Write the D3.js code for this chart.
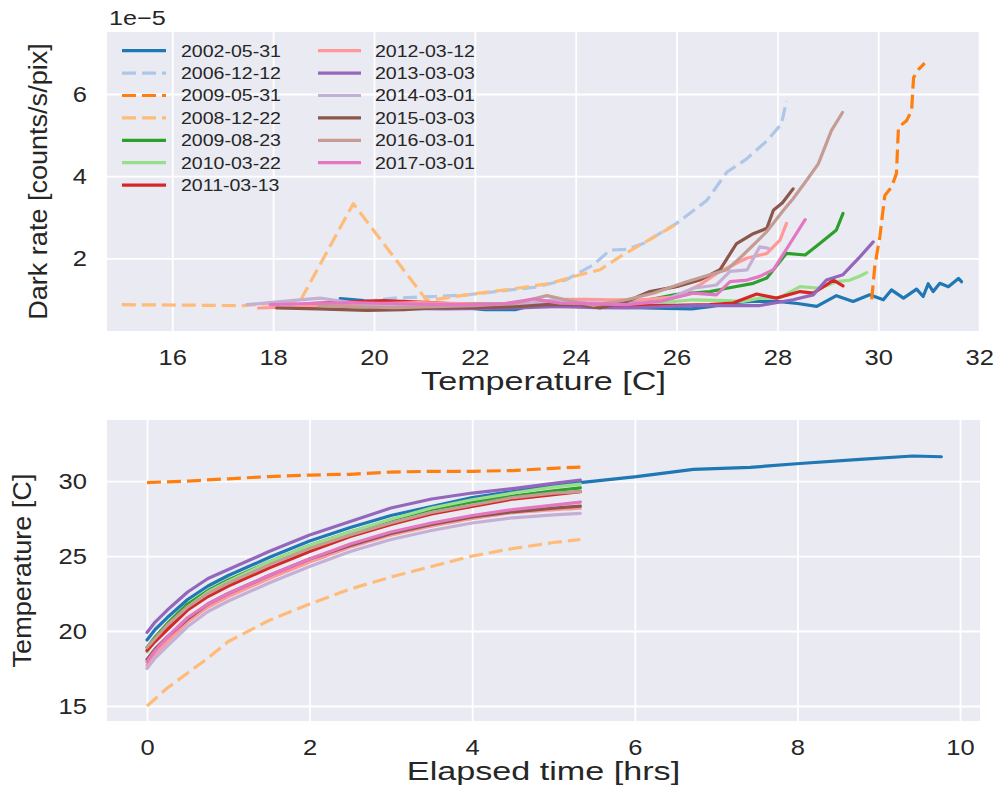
<!DOCTYPE html>
<html><head><meta charset="utf-8">
<script src="https://cdn.jsdelivr.net/npm/d3@7"></script>
<style>
html,body{margin:0;padding:0;background:#fff;}
svg{display:block;}
</style>
</head><body>
<svg id="c" width="999" height="795"></svg>
<script>
// ---------- DATA ----------
const labels = ["2002-05-31","2006-12-12","2009-05-31","2008-12-22","2009-08-23","2010-03-22","2011-03-13",
                "2012-03-12","2013-03-03","2014-03-01","2015-03-03","2016-03-01","2017-03-01"];

// Dark rate (1e-5 counts/s/pix) vs temperature [C]: [temperature, rate]
const dark_2002_05_31 = [[19.33,1.02],[19.8,0.97],[20.5,0.93],[21.2,0.88],[21.8,0.8],[22.2,0.75],[22.8,0.75],[23.2,0.87],[23.8,0.85],[24.5,0.82],[25.2,0.8],[25.8,0.78],[26.3,0.77],[26.7,0.83],[27.1,0.92],[27.5,0.95],[28.0,0.95],[28.4,0.9],[28.78,0.83],[29.17,1.09],[29.5,0.95],[29.83,1.11],[30.1,0.99],[30.26,1.23],[30.5,1.03],[30.76,1.25],[30.89,1.07],[30.99,1.38],[31.09,1.19],[31.22,1.39],[31.39,1.31],[31.59,1.51],[31.65,1.43]];
const dark_2006_12_12 = [[18.2,0.86],[19.0,0.9],[19.8,0.95],[20.4,1.03],[21.2,1.07],[21.84,1.11],[22.5,1.2],[23.2,1.3],[23.8,1.47],[24.35,1.84],[24.68,2.2],[25.01,2.22],[25.34,2.36],[26.0,2.85],[26.6,3.41],[27.0,4.1],[27.39,4.42],[27.79,4.86],[28.08,5.27],[28.18,5.83]];
const dark_2009_05_31 = [[29.87,1.0],[29.93,1.8],[30.03,2.52],[30.13,3.53],[30.26,3.73],[30.36,4.06],[30.4,5.19],[30.56,5.35],[30.66,5.59],[30.7,6.4],[30.8,6.6],[30.92,6.75]];
const dark_2008_12_22 = [[15.0,0.87],[16.3,0.86],[17.41,0.845],[18.54,0.97],[19.59,3.33],[21.05,0.97],[21.84,1.11],[22.83,1.27],[23.49,1.39],[24.09,1.6],[24.48,1.72],[24.88,2.04],[25.27,2.32],[25.67,2.6],[26.05,2.87]];
const dark_2009_08_23 = [[18.9,0.85],[19.6,0.8],[20.4,0.82],[21.2,0.86],[22.0,0.9],[22.8,0.88],[23.5,0.9],[24.2,0.88],[24.9,0.92],[25.5,1.0],[26.0,1.12],[26.66,1.19],[27.0,1.27],[27.52,1.39],[27.79,1.52],[28.18,2.12],[28.55,2.08],[28.84,2.36],[29.17,2.69],[29.3,3.09]];
const dark_2010_03_22 = [[18.6,0.82],[19.4,0.8],[20.2,0.83],[21.0,0.85],[21.8,0.87],[22.6,0.9],[23.4,0.88],[24.2,0.85],[25.0,0.88],[25.7,0.92],[26.33,0.99],[27.0,0.97],[27.32,0.95],[27.65,1.03],[28.05,1.05],[28.45,1.31],[28.84,1.27],[29.17,1.43],[29.44,1.47],[29.64,1.57],[29.77,1.65]];
const dark_2011_03_13 = [[18.7,0.9],[19.33,0.93],[20.19,0.97],[21.0,0.93],[21.8,0.88],[22.6,0.85],[23.4,0.83],[24.2,0.82],[25.0,0.84],[25.67,0.85],[26.66,0.87],[27.12,0.91],[27.59,1.13],[27.98,1.03],[28.45,1.19],[28.71,1.15],[28.97,1.35],[29.11,1.47],[29.3,1.33]];
const dark_2012_03_12 = [[17.71,0.79],[18.5,0.82],[19.3,0.86],[20.1,0.9],[20.9,0.92],[21.7,0.9],[22.5,0.88],[23.3,0.92],[23.8,1.0],[24.22,1.0],[24.68,0.99],[25.34,0.99],[26.0,1.07],[26.46,1.35],[26.86,1.68],[27.39,2.0],[27.79,2.12],[28.05,2.44],[28.18,2.85]];
const dark_2013_03_03 = [[19.9,0.8],[20.6,0.78],[21.4,0.77],[22.2,0.78],[23.0,0.8],[23.69,0.83],[24.4,0.8],[25.01,0.79],[25.7,0.82],[26.33,0.85],[27.0,0.85],[27.65,0.85],[28.31,0.99],[28.71,1.11],[28.97,1.47],[29.3,1.6],[29.64,2.04],[29.9,2.4]];
const dark_2014_03_01 = [[17.48,0.87],[18.2,0.95],[18.93,1.03],[19.86,0.87],[20.6,0.85],[21.4,0.82],[22.2,0.85],[23.0,0.88],[23.6,1.0],[24.2,0.92],[25.0,0.9],[25.7,0.95],[26.33,1.27],[26.79,1.35],[27.06,1.68],[27.4,1.72],[27.65,2.28],[27.82,2.24]];
const dark_2015_03_03 = [[18.07,0.79],[18.9,0.77],[19.86,0.73],[20.6,0.75],[21.18,0.79],[22.0,0.8],[22.8,0.82],[23.49,0.88],[24.09,0.87],[24.48,0.79],[25.01,0.95],[25.47,1.19],[26.0,1.31],[26.46,1.47],[26.86,1.72],[27.19,2.36],[27.52,2.6],[27.79,2.73],[27.92,3.17],[28.1,3.35],[28.31,3.69]];
const dark_2016_03_01 = [[18.9,0.85],[19.6,0.82],[20.4,0.8],[21.2,0.82],[22.0,0.85],[22.8,0.9],[23.43,1.09],[23.8,0.99],[24.35,0.85],[25.01,0.99],[25.54,1.15],[26.2,1.43],[26.66,1.6],[27.0,1.72],[27.32,2.08],[27.79,2.65],[28.12,3.17],[28.31,3.45],[28.58,3.9],[28.81,4.3],[29.07,5.11],[29.29,5.55]];
const dark_2017_03_01 = [[17.94,0.87],[18.7,0.9],[19.5,0.92],[20.3,0.9],[21.1,0.88],[21.9,0.87],[22.6,0.9],[23.16,1.01],[23.69,0.91],[24.35,0.89],[25.01,0.87],[25.67,0.95],[26.33,1.15],[26.79,1.11],[27.06,1.43],[27.4,1.47],[27.65,1.56],[27.92,1.72],[28.25,2.36],[28.55,2.94]];

// Temperature [C] vs elapsed time [hrs]: [hours, temperature]
const temp_2002_05_31 = [[0,19.4],[0.1,20.1],[0.25,20.9],[0.5,22.1],[0.75,23.0],[1,23.7],[1.5,24.9],[2,26.0],[2.5,26.9],[3,27.7],[3.5,28.3],[4,28.9],[4.5,29.3],[5,29.7],[5.33,29.9],[6.02,30.29],[6.72,30.78],[7.42,30.91],[8.03,31.17],[8.77,31.45],[9.42,31.67],[9.77,31.62]];
const temp_2006_12_12 = [[0,17.8],[0.1,18.5],[0.25,19.4],[0.5,20.7],[0.75,21.7],[1,22.4],[1.5,23.6],[2,24.6],[2.5,25.6],[3,26.4],[3.5,27.0],[4,27.5],[4.5,27.9],[5,28.1],[5.4,28.2]];
const temp_2009_05_31 = [[0,29.9],[0.5,30.0],[1,30.15],[1.5,30.3],[2,30.4],[2.5,30.45],[3,30.6],[3.5,30.65],[4,30.65],[4.5,30.7],[5,30.85],[5.33,30.93]];
const temp_2008_12_22 = [[0,15.0],[0.25,16.2],[0.5,17.2],[0.75,18.2],[1,19.3],[1.5,20.7],[2,21.8],[2.5,22.8],[3,23.6],[3.5,24.3],[4,25.0],[4.5,25.5],[5,25.9],[5.33,26.1]];
const temp_2009_08_23 = [[0,18.9],[0.1,19.6],[0.25,20.5],[0.5,21.8],[0.75,22.7],[1,23.4],[1.5,24.6],[2,25.7],[2.5,26.6],[3,27.4],[3.5,28.1],[4,28.6],[4.5,29.0],[5,29.35],[5.33,29.55]];
const temp_2010_03_22 = [[0,18.6],[0.1,19.4],[0.25,20.3],[0.5,21.6],[0.75,22.6],[1,23.3],[1.5,24.6],[2,25.7],[2.5,26.6],[3,27.45],[3.5,28.2],[4,28.75],[4.5,29.2],[5,29.6],[5.33,29.8]];
const temp_2011_03_13 = [[0,18.7],[0.1,19.3],[0.25,20.1],[0.5,21.4],[0.75,22.3],[1,23.0],[1.5,24.2],[2,25.3],[2.5,26.3],[3,27.1],[3.5,27.8],[4,28.3],[4.5,28.8],[5,29.1],[5.33,29.3]];
const temp_2012_03_12 = [[0,17.7],[0.1,18.4],[0.25,19.3],[0.5,20.6],[0.75,21.6],[1,22.3],[1.5,23.5],[2,24.6],[2.5,25.6],[3,26.4],[3.5,27.0],[4,27.5],[4.5,27.9],[5,28.1],[5.33,28.2]];
const temp_2013_03_03 = [[0,19.9],[0.1,20.6],[0.25,21.4],[0.5,22.6],[0.75,23.5],[1,24.1],[1.5,25.3],[2,26.4],[2.5,27.3],[3,28.2],[3.5,28.8],[4,29.2],[4.5,29.5],[5,29.85],[5.33,30.07]];
const temp_2014_03_01 = [[0,17.5],[0.1,18.2],[0.25,19.0],[0.5,20.3],[0.75,21.3],[1,22.0],[1.5,23.2],[2,24.3],[2.5,25.3],[3,26.1],[3.5,26.7],[4,27.2],[4.5,27.55],[5,27.75],[5.33,27.85]];
const temp_2015_03_03 = [[0,18.1],[0.1,18.8],[0.25,19.6],[0.5,20.8],[0.75,21.8],[1,22.5],[1.5,23.7],[2,24.8],[2.5,25.7],[3,26.5],[3.5,27.1],[4,27.6],[4.5,27.95],[5,28.2],[5.33,28.33]];
const temp_2016_03_01 = [[0,18.9],[0.1,19.5],[0.25,20.4],[0.5,21.6],[0.75,22.5],[1,23.2],[1.5,24.4],[2,25.5],[2.5,26.4],[3,27.2],[3.5,27.9],[4,28.4],[4.5,28.9],[5,29.2],[5.33,29.3]];
const temp_2017_03_01 = [[0,17.95],[0.1,18.7],[0.25,19.6],[0.5,20.9],[0.75,21.8],[1,22.5],[1.5,23.7],[2,24.8],[2.5,25.8],[3,26.6],[3.5,27.2],[4,27.7],[4.5,28.1],[5,28.4],[5.33,28.6]];

const darkSeries = [dark_2002_05_31,dark_2006_12_12,dark_2009_05_31,dark_2008_12_22,dark_2009_08_23,dark_2010_03_22,dark_2011_03_13,
                    dark_2012_03_12,dark_2013_03_03,dark_2014_03_01,dark_2015_03_03,dark_2016_03_01,dark_2017_03_01];
const tempSeries = [temp_2002_05_31,temp_2006_12_12,temp_2009_05_31,temp_2008_12_22,temp_2009_08_23,temp_2010_03_22,temp_2011_03_13,
                    temp_2012_03_12,temp_2013_03_03,temp_2014_03_01,temp_2015_03_03,temp_2016_03_01,temp_2017_03_01];

const topXTicks = [16,18,20,22,24,26,28,30,32];
const topYTicks = [2,4,6];
const botXTicks = [0,2,4,6,8,10];
const botYTicks = [15,20,25,30];

// ---------- STYLE ----------
const colors = ["#1f77b4","#aec7e8","#ff7f0e","#ffbb78","#2ca02c","#98df8a","#d62728",
                "#ff9896","#9467bd","#c5b0d5","#8c564b","#c49c94","#e377c2"];
const dashedFlags = [false,true,true,true,false,false,false,false,false,false,false,false,false];
const FONT = '"Liberation Sans", Arial, Helvetica, sans-serif';
const TXT = "#262626";
const BG = "#eaeaf2";

const svg = d3.select("#c");
svg.append("rect").attr("width",999).attr("height",795).attr("fill","#fff");

function panel(box, xDom, yDom, xTicks, yTicks, clipId) {
  const x = d3.scaleLinear().domain(xDom).range([box.l, box.r]);
  const y = d3.scaleLinear().domain(yDom).range([box.b, box.t]);
  svg.append("rect").attr("x",box.l).attr("y",box.t).attr("width",box.r-box.l).attr("height",box.b-box.t).attr("fill",BG);
  svg.append("clipPath").attr("id",clipId).append("rect")
     .attr("x",box.l).attr("y",box.t).attr("width",box.r-box.l).attr("height",box.b-box.t);
  const gx = svg.append("g").attr("transform",`translate(0,${box.b})`)
     .call(d3.axisBottom(x).tickValues(xTicks).tickSize(-(box.b-box.t)).tickFormat(""));
  const gy = svg.append("g").attr("transform",`translate(${box.l},0)`)
     .call(d3.axisLeft(y).tickValues(yTicks).tickSize(-(box.r-box.l)).tickFormat(""));
  [gx,gy].forEach(g=>{ g.select(".domain").remove(); g.selectAll("line").attr("stroke","#fff").attr("stroke-width",1.8); });
  const lx = svg.append("g").attr("transform",`translate(0,${box.b})`)
     .call(d3.axisBottom(x).tickValues(xTicks).tickSize(0).tickPadding(18).tickFormat(d3.format("d")));
  const ly = svg.append("g").attr("transform",`translate(${box.l},0)`)
     .call(d3.axisLeft(y).tickValues(yTicks).tickSize(0).tickPadding(17.4).tickFormat(d3.format("d")));
  [lx,ly].forEach(g=>{
    g.select(".domain").remove();
    g.selectAll("text").style("font-family",FONT).style("font-size","22px").attr("fill",TXT)
     .attr("transform","scale(1.16,1)");
  });
  return {x,y};
}

function drawLines(sc, data, clipId) {
  const line = d3.line().x(d=>sc.x(d[0])).y(d=>sc.y(d[1]));
  const g = svg.append("g").attr("clip-path",`url(#${clipId})`);
  data.forEach((s,i)=>{
    g.append("path").attr("d",line(s)).attr("fill","none")
     .attr("stroke",colors[i]).attr("stroke-width",3.2)
     .attr("stroke-linejoin","round").attr("stroke-linecap",dashedFlags[i]?"butt":"round")
     .attr("stroke-dasharray",dashedFlags[i]?"14,6":null);
  });
}

// ---------- TOP PANEL ----------
const topBox = {l:107, r:980, t:32, b:331};
const topSc = panel(topBox, [14.706, 32.017], [0.230, 7.509], topXTicks, topYTicks, "clipTop");
drawLines(topSc, darkSeries, "clipTop");

const leg = svg.append("g");
labels.forEach((lab,i)=>{
  const col = i<7?0:1, row = i<7?i:i-7;
  const cy = 50.7 + row*22.4;
  const hx0 = col===0?122:318, hx1 = col===0?166:361, tx = col===0?181:375;
  leg.append("line").attr("x1",hx0).attr("x2",hx1).attr("y1",cy).attr("y2",cy)
     .attr("stroke",colors[i]).attr("stroke-width",3.2)
     .attr("stroke-dasharray",dashedFlags[i]?"14,6":null);
  leg.append("text").attr("transform",`translate(${tx},${cy}) scale(1.15,1)`).attr("dy","0.35em")
     .style("font-family",FONT).style("font-size","17px").attr("fill",TXT).text(lab);
});

svg.append("text").attr("transform","translate(109,25) scale(1.2,1)")
   .style("font-family",FONT).style("font-size","21px").attr("fill",TXT).text("1e\u22125");

svg.append("text").attr("transform","translate(543.5,390) scale(1.34,1)").attr("text-anchor","middle")
   .style("font-family",FONT).style("font-size","25.5px").attr("fill",TXT).text("Temperature [C]");
svg.append("text").attr("transform",`translate(47,${(topBox.t+topBox.b)/2}) rotate(-90) scale(1.04,1)`).attr("text-anchor","middle")
   .style("font-family",FONT).style("font-size","26px").attr("fill",TXT).text("Dark rate [counts/s/pix]");

// ---------- BOTTOM PANEL ----------
const botBox = {l:107, r:980, t:420, b:721};
const botSc = panel(botBox, [-0.492, 10.246], [14.0, 34.07], botXTicks, botYTicks, "clipBot");
drawLines(botSc, tempSeries, "clipBot");

svg.append("text").attr("transform","translate(543.5,780) scale(1.34,1)").attr("text-anchor","middle")
   .style("font-family",FONT).style("font-size","25.5px").attr("fill",TXT).text("Elapsed time [hrs]");
svg.append("text").attr("transform",`translate(31,${(botBox.t+botBox.b)/2}) rotate(-90) scale(1.04,1)`).attr("text-anchor","middle")
   .style("font-family",FONT).style("font-size","26px").attr("fill",TXT).text("Temperature [C]");
</script>
</body></html>
